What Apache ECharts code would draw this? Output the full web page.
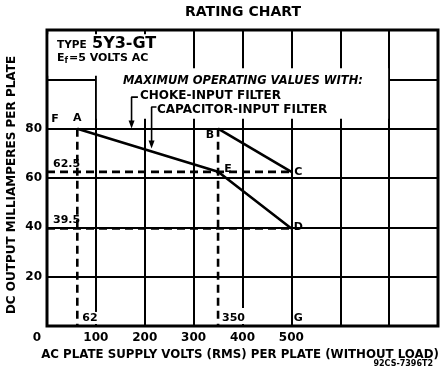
<!DOCTYPE html>
<html><head><meta charset="utf-8">
<script src="https://cdn.jsdelivr.net/npm/echarts@6/dist/echarts.min.js"></script>
<style>html,body{margin:0;padding:0;background:#fff}#chart{width:442px;height:368px}</style>
</head><body><div id="chart"></div>
<script>
// Axis ticks (volts, milliamperes)
const xTickLabels = [0, 100, 200, 300, 400, 500];
const yTickLabels = [20, 40, 60, 80];

// Capacitor-input filter limit: A -> E -> D
const capacitorCurve = [[62, 80], [350, 62.5], [500, 39.5]];
// Choke-input filter limit: B -> C
const chokeCurve = [[350, 80], [500, 62.5]];

// Dashed reference lines
const dash625 = [[0, 62.5], [500, 62.5]];
const dash395 = [[0, 39.5], [500, 39.5]];
const dash62 = [[62, 80], [62, 0]];
const dash350 = [[350, 80], [350, 0]];

// Lettered points
const pointNames = ['F', 'A', 'B', 'E', 'C', 'D', 'G'];
const pointCoords = [[0, 80], [62, 80], [350, 80], [350, 62.5], [500, 62.5], [500, 39.5], [500, 0]];

// Value call-outs
const valueNames = ['62.5', '39.5', '62', '350'];
const valueCoords = [[0, 62.5], [0, 39.5], [62, 0], [350, 0]];

// Leader arrows from the filter captions
const chokeArrow = [[186, 92.8], [173, 92.8], [173, 81.7]];
const capacitorArrow = [[224, 88.8], [214, 88.8], [214, 73.6]];

// Grid areas left blank around the captions
const blankAreas = [
  [[3.5, 101.5], [210, 118.3]],
  [[102, 84], [698, 104.5]],
  [[96, 0.8], [104, 5.7]],
  [[396, 0.8], [404, 7.3]]
];

const FONT = 'DejaVu Sans';
const chart = echarts.init(document.getElementById('chart'), null, { renderer: 'canvas' });

const labelOffsets = {
  F: [8, -10], A: [0, -11], B: [-8, 6], E: [10, -3], C: [7, 0], D: [7, -1], G: [7, -8]
};
const valueOffsets = {
  '62.5': [6, -8], '39.5': [6, -8], '62': [5, -8], '350': [4, -8]
};

const solid = (data) => ({
  type: 'line', data, symbol: 'none', z: 3, animation: false,
  lineStyle: { color: '#000', width: 2.6 }
});
const dashed = (data) => ({
  type: 'line', data, symbol: 'none', z: 3, animation: false,
  lineStyle: { color: '#000', width: 2.6, type: [8, 5] }
});
const arrow = (data) => ({
  type: 'line', z: 3, animation: false,
  data: data.map((p, i) => i === data.length - 1
    ? { value: p, symbol: 'triangle', symbolSize: [6, 8], symbolRotate: 180 }
    : { value: p, symbol: 'none' }),
  showSymbol: true,
  itemStyle: { color: '#000' },
  lineStyle: { color: '#000', width: 1.6 }
});

const letterLabel = (names, coords, offsets, align) => ({
  type: 'scatter', z: 4, animation: false,
  symbol: 'circle', symbolSize: 0.1,
  itemStyle: { color: '#000' },
  data: names.map((n, i) => ({
    name: n, value: coords[i],
    label: { offset: offsets[n] }
  })),
  label: {
    show: true, position: 'inside', formatter: '{b}',
    color: '#000', textBorderWidth: 0, opacity: 1,
    fontFamily: FONT, fontWeight: 'bold', fontSize: 11,
    align, verticalAlign: 'middle'
  }
});

const blankSeries = {
  type: 'line', data: [], z: 1, animation: false,
  markArea: {
    silent: true,
    itemStyle: { color: '#fff', opacity: 1 },
    data: blankAreas.map(a => [{ coord: a[0] }, { coord: a[1] }])
  }
};

const txt = (x, y, text, size, extra) => ({
  type: 'text', x, y, z: 10,
  style: Object.assign({
    text, fill: '#000', font: `bold ${size}px "${FONT}"`,
    textAlign: 'left', textVerticalAlign: 'middle'
  }, extra || {})
});

chart.setOption({
  animation: false,
  backgroundColor: '#fff',
  grid: { left: 47, right: 4, top: 30, bottom: 42, show: true, borderColor: '#000', borderWidth: 3 },
  xAxis: {
    type: 'value', min: 0, max: 800, interval: 100,
    axisLine: { show: false }, axisTick: { show: false },
    splitLine: { show: true, lineStyle: { color: '#000', width: 2 } },
    axisLabel: {
      margin: 6, color: '#000', fontFamily: FONT, fontWeight: 'bold', fontSize: 12,
      formatter: v => xTickLabels.indexOf(v) < 0 ? '' : (v === 0 ? '{z|0}' : String(v)),
      rich: { z: { padding: [0, 20, 0, 0], color: '#000', fontFamily: FONT, fontWeight: 'bold', fontSize: 12 } }
    }
  },
  yAxis: {
    type: 'value', min: 0, max: 120, interval: 20,
    axisLine: { show: false }, axisTick: { show: false },
    splitLine: { show: true, lineStyle: { color: '#000', width: 2 } },
    axisLabel: {
      margin: 5, color: '#000', fontFamily: FONT, fontWeight: 'bold', fontSize: 12,
      formatter: v => yTickLabels.indexOf(v) < 0 ? '' : String(v)
    }
  },
  series: [
    blankSeries,
    solid(capacitorCurve),
    solid(chokeCurve),
    dashed(dash625), dashed(dash395), dashed(dash62), dashed(dash350),
    arrow(chokeArrow), arrow(capacitorArrow),
    letterLabel(pointNames, pointCoords, labelOffsets, 'center'),
    letterLabel(valueNames, valueCoords, valueOffsets, 'left')
  ],
  graphic: [
    txt(243, 12, 'RATING CHART', 14, { textAlign: 'center' }),
    txt(57, 45, 'TYPE', 10.5),
    txt(92, 44, '5Y3-GT', 16),
    {
      type: 'text', x: 57, y: 58, z: 10,
      style: {
        text: '{e|E}{s|f}{e|=5 VOLTS AC}', textVerticalAlign: 'middle',
        rich: {
          e: { fill: '#000', font: `bold 11px "${FONT}"` },
          s: { fill: '#000', font: `bold 8px "${FONT}"`, padding: [5, 1, 0, 0] }
        }
      }
    },
    txt(123, 81, 'MAXIMUM OPERATING VALUES WITH:', 11.5, { font: `italic bold 11.5px "${FONT}"` }),
    txt(140, 96, 'CHOKE-INPUT FILTER', 12),
    txt(157, 110, 'CAPACITOR-INPUT FILTER', 12),
    txt(240, 355, 'AC PLATE SUPPLY VOLTS (RMS) PER PLATE (WITHOUT LOAD)', 11.8, { textAlign: 'center' }),
    txt(12, 185, 'DC OUTPUT MILLIAMPERES PER PLATE', 12, { textAlign: 'center' }),
    txt(433, 364, '92CS-7396T2', 8, { textAlign: 'right' })
  ]
});
// rotate the vertical axis title
const opt = chart.getOption();
opt.graphic[0].elements[8].rotation = Math.PI / 2;
chart.setOption({ graphic: opt.graphic });
</script></body></html>
